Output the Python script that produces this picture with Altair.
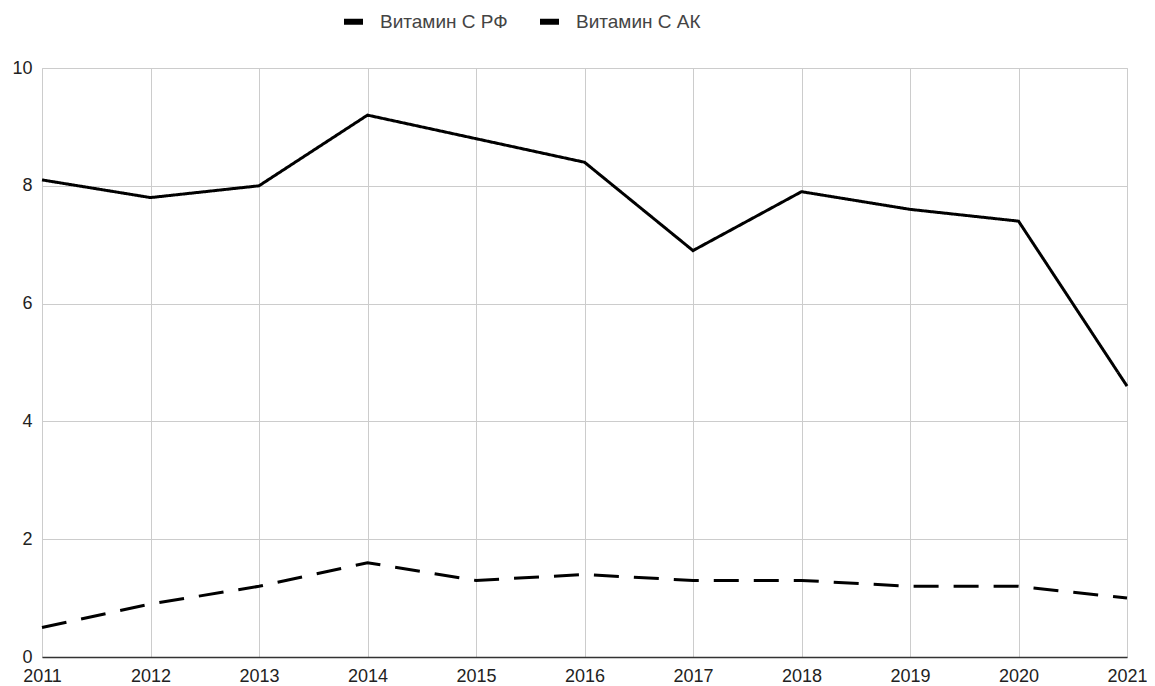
import altair as alt
import pandas as pd

years = [2011, 2012, 2013, 2014, 2015, 2016, 2017, 2018, 2019, 2020, 2021]
vit_c_rf = [8.1, 7.8, 8.0, 9.2, 8.8, 8.4, 6.9, 7.9, 7.6, 7.4, 4.6]
vit_c_ak = [0.5, 0.9, 1.2, 1.6, 1.3, 1.4, 1.3, 1.3, 1.2, 1.2, 1.0]
series_names = ["Витамин С РФ", "Витамин С АК"]
y_ticks = [0, 2, 4, 6, 8, 10]

rows = []
for name, vals in zip(series_names, [vit_c_rf, vit_c_ak]):
    for yr, v in zip(years, vals):
        rows.append({"year": yr, "value": v, "series": name})
df = pd.DataFrame(rows)

FONT = "Liberation Sans"

chart = alt.Chart(df).mark_line(strokeWidth=3, color="black").encode(
    x=alt.X("year:Q", scale=alt.Scale(domain=[2011, 2021], nice=False, zero=False),
            axis=alt.Axis(values=years, format="d", title=None, grid=True,
                          gridColor="#cccccc", domainColor="#333333", domainWidth=1.5,
                          ticks=False, labelPadding=10, labelFontSize=18, labelFlush=False,
                          labelColor="#222222", labelFont=FONT)),
    y=alt.Y("value:Q", scale=alt.Scale(domain=[0, 10], nice=False),
            axis=alt.Axis(values=y_ticks, title=None, grid=True, gridColor="#cccccc",
                          domain=False, ticks=False, labelPadding=10, labelFontSize=18,
                          labelFlush=False,
                          labelColor="#222222", labelFont=FONT)),
    strokeDash=alt.StrokeDash("series:N",
        scale=alt.Scale(domain=series_names, range=[[1, 0], [25, 15]]),
        legend=alt.Legend(title=None, orient="none", legendX=299, legendY=-59,
                          direction="horizontal", symbolType="stroke",
                          symbolStrokeWidth=6, symbolSize=361, symbolStrokeColor="black",
                          labelFontSize=19, labelColor="#444444", labelFont=FONT,
                          labelOffset=14, columnPadding=20)),
    detail="series:N",
).properties(
    width=1085, height=589,
    autosize=alt.AutoSizeParams(type="none"),
    padding={"left": 34, "top": 60, "right": 20, "bottom": 31},
).configure_view(stroke="#cccccc", strokeWidth=1)

chart.save("out.html", embed_options={"renderer": "svg", "actions": False})
